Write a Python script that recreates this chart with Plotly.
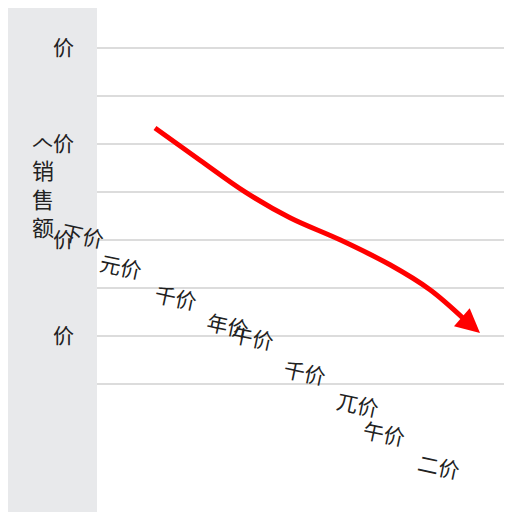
import plotly.graph_objects as go

# 坐标：x 为横向位置，y 为纵向数值
curve_x = [58, 103, 148, 193, 243, 293, 333, 368]
curve_y = [8.0, 7.33, 6.67, 6.13, 5.67, 5.15, 4.63, 4.0]
arrow_end = (383, 3.73)

grid_vals = [9.667, 8.667, 7.667, 6.667, 5.667, 4.667, 3.667, 2.667]
grid_text = ["价", "", "𠆢价", "", "价", "", "价", ""]

cat_labels = ["下价", "元价", "千价", "年价", "午价", "千价", "兀价", "午价", "二价"]
cat_x = [-40, -2, 53, 105, 156, 208, 261, 313, 368]
cat_y = [5.77, 5.13, 4.48, 3.90, 3.21, 2.48, 1.81, 1.19, 0.52]

XR = 415.0
YR = 10.5

fig = go.Figure()
fig.add_trace(go.Scatter(x=curve_x, y=curve_y, mode="lines",
                         line=dict(color="#ff0000", width=5, shape="spline"),
                         showlegend=False, hoverinfo="skip"))
fig.add_annotation(x=arrow_end[0], y=arrow_end[1], ax=curve_x[-1], ay=curve_y[-1],
                   xref="x", yref="y", axref="x", ayref="y", text="",
                   showarrow=True, arrowhead=2, arrowsize=1.2, arrowwidth=4,
                   arrowcolor="#ff0000")

for t, x, y in zip(cat_labels, cat_x, cat_y):
    fig.add_annotation(x=x / XR, y=y / YR, xref="paper", yref="paper", text=t,
                       showarrow=False, textangle=12,
                       font=dict(size=21, color="#222"))

fig.add_annotation(x=-67 / XR, y=6.55 / YR, xref="paper", yref="paper",
                   text="销<br>售<br>额", showarrow=False,
                   font=dict(size=22, color="#222"))

fig.update_layout(
    width=504, height=504,
    margin=dict(l=89, r=0, t=0, b=0),
    paper_bgcolor="#e8e9eb", plot_bgcolor="white",
    font=dict(family="Noto Sans CJK SC"),
    xaxis=dict(range=[0, XR], visible=False),
    yaxis=dict(range=[0, YR], tickvals=grid_vals, ticktext=grid_text,
               gridcolor="#dcdcdc", gridwidth=1.5, zeroline=False, showline=False,
               ticks="", ticklabelstandoff=22, tickfont=dict(size=21, color="#222")),
)
fig.write_html("out.html")
